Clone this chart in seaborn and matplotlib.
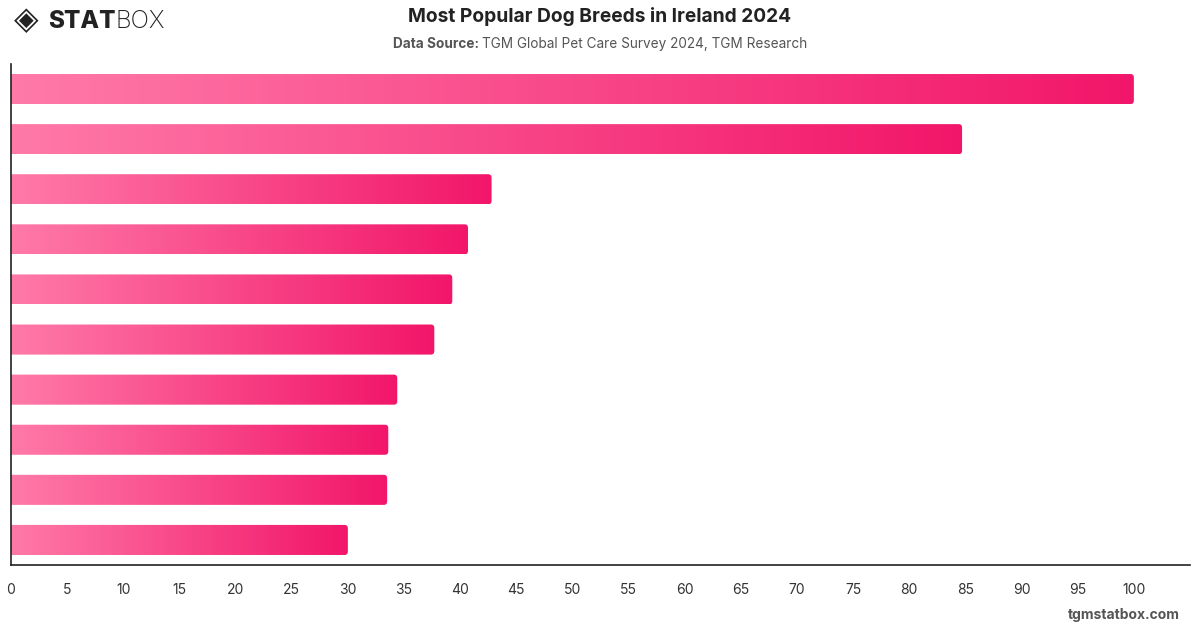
import numpy as np
import pandas as pd
import matplotlib.pyplot as plt
import seaborn as sns
from matplotlib.patches import FancyBboxPatch
from matplotlib.colors import LinearSegmentedColormap

############################################################
# DATA (breed names are not shown on the chart)
############################################################
breeds = ["Breed 1", "Breed 2", "Breed 3", "Breed 4", "Breed 5",
          "Breed 6", "Breed 7", "Breed 8", "Breed 9", "Breed 10"]
share = [100, 84.7, 42.8, 40.7, 39.3, 37.7, 34.4, 33.6, 33.5, 30.0]
x_ticks = list(range(0, 105, 5))

df = pd.DataFrame({"breed": breeds, "share": share})

############################################################
# STYLE
############################################################
sns.set_style("white")
plt.rcParams["font.family"] = ["Inter", "DejaVu Sans"]

fig = plt.figure(figsize=(12, 6.28), dpi=100)
ax = fig.add_axes([11 / 1200, 1 - 565 / 628, 1179 / 1200, 501 / 628])

sns.barplot(data=df, x="share", y="breed", orient="h", width=0.6,
            color="#f5266f", ax=ax)

############################################################
# GRADIENT BARS WITH ROUNDED RIGHT ENDS
############################################################
cmap = LinearSegmentedColormap.from_list("pink", ["#ff7aa8", "#f2166a"])
grad = np.linspace(0, 1, 256).reshape(1, -1)
rx, ry = 0.3, 0.07

for p in list(ax.patches):
    x0, y0, w, h = p.get_x(), p.get_y(), p.get_width(), p.get_height()
    p.set_visible(False)
    shape = FancyBboxPatch((x0 - 2, y0), w + 2, h,
                           boxstyle=f"round,pad=0,rounding_size={rx}",
                           mutation_aspect=ry / rx,
                           fc="none", ec="none")
    ax.add_patch(shape)
    im = ax.imshow(grad, cmap=cmap, aspect="auto",
                   extent=(x0, x0 + w, y0 + h, y0), zorder=2)
    im.set_clip_path(shape)

ax.set_xlim(0, 105)
ax.set_ylim(9.5, -0.5)

############################################################
# AXES
############################################################
ax.set_xticks(x_ticks)
ax.set_xticklabels([str(t) for t in x_ticks])
ax.tick_params(axis="x", length=0, pad=13, labelsize=10, labelcolor="#333333")
ax.set_yticks([])
ax.set_xlabel("")
ax.set_ylabel("")
for s in ["top", "right"]:
    ax.spines[s].set_visible(False)
for s in ["left", "bottom"]:
    ax.spines[s].set_color("#222222")
    ax.spines[s].set_linewidth(1.2)

############################################################
# TITLES, LOGO, FOOTER
############################################################
fig.text(0.5, 1 - 17 / 628, "Most Popular Dog Breeds in Ireland 2024",
         ha="center", va="center", fontsize=13.8, fontweight="bold", color="#222222")
sub1 = fig.text(0.5, 1 - 44 / 628, "Data Source: ", ha="right", va="center",
                fontsize=9.8, fontweight="bold", color="#555555")
fig.canvas.draw()
renderer = fig.canvas.get_renderer()
full_w = sub1.get_window_extent(renderer).width
sub2 = fig.text(0, 0, "TGM Global Pet Care Survey 2024, TGM Research",
                va="center", fontsize=9.8, color="#555555")
sub2_w = sub2.get_window_extent(renderer).width
start = (1200 - (full_w + sub2_w)) / 2
sub1.set_ha("left")
sub1.set_x(start / 1200)
sub2.set_position(((start + full_w) / 1200, 1 - 44 / 628))

fig.text(14 / 1200, 1 - 21 / 628, "\u25C8", ha="left", va="center",
         fontsize=23, color="#222222", family="DejaVu Sans")
stat = fig.text(48 / 1200, 1 - 21 / 628, "STAT", ha="left", va="center",
                fontsize=17.5, fontweight="heavy", color="#222222")
stat_w = stat.get_window_extent(renderer).width
fig.text((48 + stat_w) / 1200, 1 - 21 / 628, "BOX", ha="left", va="center",
         fontsize=17.5, fontweight="light", color="#222222")

fig.text(1180 / 1200, 1 - 615 / 628, "tgmstatbox.com", ha="right", va="center",
         fontsize=10, fontweight="bold", color="#555555")

fig.savefig("out.png", dpi=100)
